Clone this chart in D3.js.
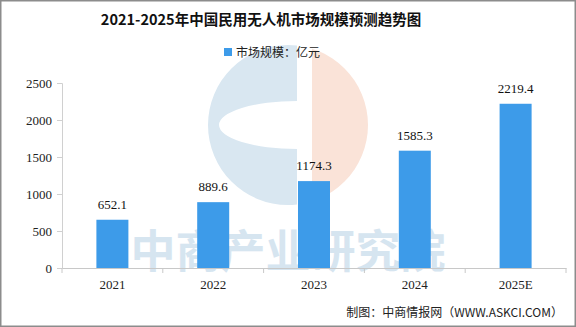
<!DOCTYPE html>
<html lang="zh">
<head>
<meta charset="UTF-8">
<title>2021-2025年中国民用无人机市场规模预测趋势图</title>
<script src="https://cdn.jsdelivr.net/npm/d3@7/dist/d3.min.js"></script>
<style>
  body { margin: 0; background: #fff; }
  svg { display: block; }
</style>
</head>
<body>
<script>
var years = ["2021", "2022", "2023", "2024", "2025E"];
var values = [652.1, 889.6, 1174.3, 1585.3, 2219.4];
var yTicks = [0, 500, 1000, 1500, 2000, 2500];

var w = 576, h = 327;
var plotLeft = 62, plotRight = 566, plotTop = 83, plotBottom = 268;
var numFont = "'Liberation Serif', 'DejaVu Serif', serif";
var cjkFont = "'Noto Sans CJK SC', sans-serif";

var svg = d3.select("body").append("svg")
    .attr("width", w)
    .attr("height", h);

svg.append("rect")
    .attr("x", 0.75).attr("y", 0.75)
    .attr("width", w - 1.5).attr("height", h - 1.5)
    .attr("fill", "#fff")
    .attr("stroke", "#8c8c8c")
    .attr("stroke-width", 1.5);

var x = d3.scaleBand().domain(years).range([plotLeft, plotRight]);
var y = d3.scaleLinear().domain([0, 2500]).range([plotBottom, plotTop]);

// watermark text
svg.append("text")
    .attr("x", 288).attr("y", 268)
    .attr("text-anchor", "middle")
    .attr("font-family", cjkFont)
    .attr("font-weight", "bold")
    .attr("font-size", 45)
    .attr("fill", "#d6e5f0")
    .text("中商产业研究院");

// watermark logo: blue "C" on the left, peach half disc on the right
var cx = 288, cy = 125, r = 80;
var defs = svg.append("defs");
defs.append("clipPath").attr("id", "leftHalf")
    .append("rect").attr("x", cx - r - 2).attr("y", cy - r - 2).attr("width", r + 11).attr("height", 2 * r + 4);
defs.append("clipPath").attr("id", "rightHalf")
    .append("rect").attr("x", cx + 24).attr("y", cy - r - 2).attr("width", r).attr("height", 2 * r + 4);

var outer = "M" + cx + "," + (cy - r) + " A" + r + "," + r + " 0 1,0 " + cx + "," + (cy + r) +
    " A" + r + "," + r + " 0 1,0 " + cx + "," + (cy - r) + " Z";
var inner = "M" + (cx + 9) + "," + (cy - 24) + " A78,24 0 1,0 " + (cx + 9) + "," + (cy + 24) +
    " L" + (cx + 40) + "," + (cy + 24) + " L" + (cx + 40) + "," + (cy - 24) + " Z";

svg.append("path")
    .attr("clip-path", "url(#leftHalf)")
    .attr("fill-rule", "evenodd")
    .attr("fill", "#d9e7f1")
    .attr("d", outer + " " + inner);
svg.append("circle")
    .attr("clip-path", "url(#rightHalf)")
    .attr("cx", cx).attr("cy", cy).attr("r", r)
    .attr("fill", "#fae3d8");

// title
svg.append("text")
    .attr("x", 261).attr("y", 25)
    .attr("text-anchor", "middle")
    .attr("font-family", cjkFont)
    .attr("font-weight", "bold")
    .attr("font-size", 14.5)
    .attr("fill", "#111")
    .text("2021-2025年中国民用无人机市场规模预测趋势图");

// legend
svg.append("rect")
    .attr("x", 224).attr("y", 48).attr("width", 8).attr("height", 8)
    .attr("fill", "#3d9be9");
svg.append("text")
    .attr("x", 236).attr("y", 57)
    .attr("font-family", cjkFont)
    .attr("font-size", 12)
    .attr("fill", "#222")
    .text("市场规模：亿元");

// axes
var yAxis = svg.append("g")
    .attr("transform", "translate(" + plotLeft + ",0)")
    .call(d3.axisLeft(y).tickValues(yTicks).tickFormat(d3.format("d")).tickSize(5).tickPadding(5));
yAxis.select(".domain").attr("stroke", "#d0d0d0");
yAxis.selectAll(".tick line").attr("stroke", "#d0d0d0");
yAxis.selectAll(".tick text")
    .attr("font-family", numFont)
    .attr("font-size", 13)
    .attr("fill", "#222");

var xAxis = svg.append("g")
    .attr("transform", "translate(0," + plotBottom + ")")
    .call(d3.axisBottom(x).tickSize(0).tickPadding(12));
xAxis.select(".domain").attr("stroke", "#c8c8c8");
xAxis.selectAll(".tick text")
    .attr("font-family", numFont)
    .attr("font-size", 13)
    .attr("fill", "#222");
xAxis.selectAll(".bound")
    .data(years.concat(["end"]))
    .enter().append("line")
    .attr("x1", function(d) { return d === "end" ? plotRight : x(d); })
    .attr("x2", function(d) { return d === "end" ? plotRight : x(d); })
    .attr("y1", 0).attr("y2", 5)
    .attr("stroke", "#c8c8c8");

// bars
var bw = 32;
svg.selectAll(".bar")
    .data(values)
    .enter().append("rect")
    .attr("x", function(d, i) { return x(years[i]) + x.bandwidth() / 2 - bw / 2; })
    .attr("y", function(d) { return y(d); })
    .attr("width", bw)
    .attr("height", function(d) { return y(0) - y(d); })
    .attr("fill", "#3d9be9");

svg.selectAll(".val")
    .data(values)
    .enter().append("text")
    .attr("x", function(d, i) { return x(years[i]) + x.bandwidth() / 2; })
    .attr("y", function(d) { return y(d) - 11; })
    .attr("text-anchor", "middle")
    .attr("font-family", numFont)
    .attr("font-size", 13)
    .attr("fill", "#111")
    .text(function(d) { return d.toFixed(1); });

// source
svg.append("text")
    .attr("x", 563).attr("y", 317)
    .attr("text-anchor", "end")
    .attr("font-family", cjkFont)
    .attr("font-size", 12)
    .attr("fill", "#222")
    .text("制图：中商情报网（WWW.ASKCI.COM）");
</script>
</body>
</html>
